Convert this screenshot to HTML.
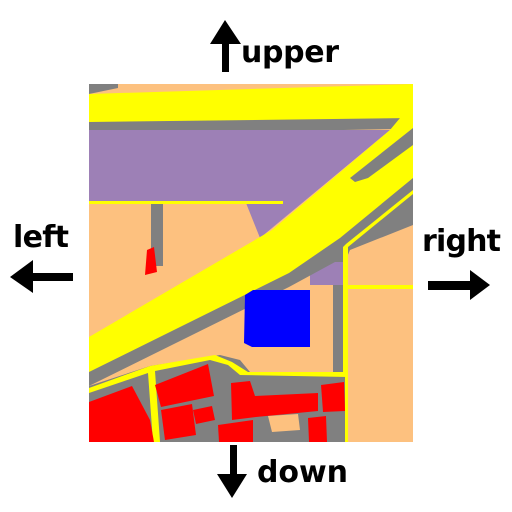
<!DOCTYPE html>
<html><head><meta charset="utf-8"><style>
html,body{margin:0;padding:0;background:#fff;width:512px;height:512px;overflow:hidden}
svg{display:block}
text{font-family:"DejaVu Sans","Liberation Sans",sans-serif;font-weight:bold;font-size:30px;fill:#000}
</style></head><body>
<svg width="512" height="512" viewBox="0 0 512 512">
<g>
<rect x="89" y="84" width="324" height="358" fill="#fdc17f"/>
<polygon points="89,84 118,84 118,88 89,94" fill="#808080"/>
<polygon points="89,118 413,112 413,125 396,129 89,135" fill="#808080"/>
<polygon points="89,130 390,130 260,238 246,203 89,203" fill="#9d80b6"/>
<polygon points="310,262 343,250 343,285 310,285" fill="#9d80b6"/>
<polygon points="89,94 413,84 413,118 89,122" fill="#ffff00"/>
<polygon points="89,370 289,271 340,236 413,176 413,225 350,250 345,262 335,262 289,287 89,386" fill="#808080"/>
<polygon points="89,337 272,230 390,130 405,112 413,112 413,178 340,238 289,273 89,372" fill="#ffff00"/>
<polygon points="350,178 413,128 413,145 368,178 355,182" fill="#808080"/>
<polygon points="413,190 413,194 348,247 345,250 343,247 346,244" fill="#ffff00"/>
<rect x="343" y="247" width="5" height="195" fill="#ffff00"/>
<rect x="333" y="285" width="10" height="157" fill="#808080"/>
<rect x="348" y="285" width="65" height="4" fill="#ffff00"/>
<rect x="89" y="201" width="194" height="3" fill="#ffff00"/>
<rect x="151" y="204" width="12" height="62" fill="#808080"/>
<polygon points="147,250 154,247 157,272 145,275" fill="#ff0000"/>
<polygon points="245,295 253,290 310,290 310,347 252,347 244,343" fill="#0000ff"/>
<polygon points="89,386 150,366 220,355 240,360 250,372 345,372 345,442 89,442" fill="#808080"/>
<polygon points="150,366 215,355 232,362 248,372 348,372 348,377 240,375 228,365 210,360 155,371 160,442 153,442 148,373 89,393 89,388" fill="#ffff00"/>
<polygon points="89,402 132,386 150,420 154,442 89,442" fill="#ff0000"/>
<polygon points="155,385 208,364 214,396 161,407" fill="#ff0000"/>
<polygon points="161,410 192,404 196,435 165,440" fill="#ff0000"/>
<polygon points="193,410 212,406 215,420 196,424" fill="#ff0000"/>
<polygon points="231,383 250,381 255,396 318,393 318,411 256,417 232,420" fill="#ff0000"/>
<polygon points="218,425 253,420 253,442 219,442" fill="#ff0000"/>
<polygon points="321,385 344,382 345,411 323,412" fill="#ff0000"/>
<polygon points="308,418 326,416 327,442 309,442" fill="#ff0000"/>
<polygon points="268,416 298,414 300,430 272,432" fill="#fdc17f"/>
</g>
<g><polygon points="225,20 241,44 229,44 229,72 222,72 222,44 210,44" fill="#000"/></g>
<text x="241" y="62" textLength="98">upper</text>
<text x="13" y="247" textLength="56">left</text>
<g><polygon points="10,277 33,260 33,273 73,273 73,281 33,281 33,293" fill="#000"/></g>
<text x="422" y="251" textLength="79">right</text>
<g><polygon points="490,285 470,270 470,281 428,281 428,290 470,290 470,300" fill="#000"/></g>
<g><polygon points="232,498 247,474 237,474 237,445 230,445 230,474 217,474" fill="#000"/></g>
<text x="257" y="482" textLength="91">down</text>
</svg>
</body></html>
